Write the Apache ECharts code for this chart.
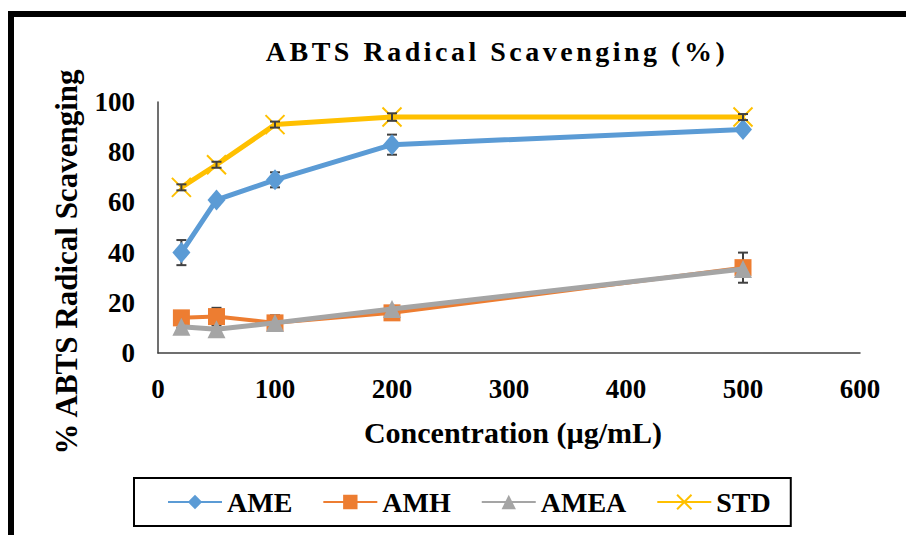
<!DOCTYPE html>
<html>
<head>
<meta charset="utf-8">
<script src="https://cdn.jsdelivr.net/npm/echarts@6/dist/echarts.min.js"></script>
<style>
html,body{margin:0;padding:0;background:#fff;}
#chart{width:906px;height:535px;}
</style>
</head>
<body>
<div id="chart"></div>
<script>
// ---- data ----
const concentrations = [20, 50, 100, 200, 500];
const ame  = [40, 61, 69, 83, 89];
const amh  = [14, 14.5, 12, 16, 34];
const amea = [10.5, 9.5, 12, 17.5, 33.5];
const std  = [66, 75, 91, 94, 94];
const ameErr  = [5, 0.5, 3, 4, 0.5];
const amhErr  = [0.5, 3.5, 3, 1.5, 6];
const ameaErr = [0.5, 0.5, 0.5, 1, 0.5];
const stdErr  = [1.2, 1.2, 1.2, 1.5, 1.2];
const xTicks = [0, 100, 200, 300, 400, 500, 600];
const yTicks = [0, 20, 40, 60, 80, 100];
const seriesNames = ['AME', 'AMH', 'AMEA', 'STD'];
const titleText = 'ABTS Radical Scavenging (%)';
const xTitle = 'Concentration (µg/mL)';
const yTitle = '% ABTS Radical Scavenging';

const FONT = "'Liberation Serif','Times New Roman',serif";
const colors = ['#5B9BD5', '#ED7D31', '#A5A5A5', '#FFC000'];

const pair = (ys) => concentrations.map((x, i) => [x, ys[i]]);
const errPair = (ys, es) => concentrations.map((x, i) => [x, ys[i], es[i]]);

function renderErr(params, api) {
  const x = api.value(0), y = api.value(1), e = api.value(2);
  const t = api.coord([x, y + e]);
  const b = api.coord([x, y - e]);
  const hw = 5;
  const st = { stroke: '#404040', lineWidth: 2 };
  return {
    type: 'group',
    children: [
      { type: 'line', shape: { x1: t[0], y1: t[1], x2: b[0], y2: b[1] }, style: st },
      { type: 'line', shape: { x1: t[0] - hw, y1: t[1], x2: t[0] + hw, y2: t[1] }, style: st },
      { type: 'line', shape: { x1: b[0] - hw, y1: b[1], x2: b[0] + hw, y2: b[1] }, style: st }
    ]
  };
}

const lineDefs = [
  { name: 'AME', data: ame, symbol: 'diamond', size: [18, 21], width: 5 },
  { name: 'AMH', data: amh, symbol: 'rect', size: 17, width: 4 },
  { name: 'AMEA', data: amea, symbol: 'triangle', size: 18, width: 5 },
  { name: 'STD', data: std, symbol: 'path://M0,0L10,10M10,0L0,10', size: 19, width: 5 }
];
const errs = [ameErr, amhErr, ameaErr, stdErr];

const series = [];
lineDefs.forEach((d, i) => {
  series.push({
    name: d.name,
    type: 'line',
    data: pair(d.data),
    symbol: d.symbol,
    symbolSize: d.size,
    showAllSymbol: true,
    lineStyle: { color: colors[i], width: d.width },
    itemStyle: { color: d.name === 'STD' ? 'none' : colors[i], borderColor: colors[i], borderWidth: d.name === 'STD' ? 2 : 0 },
    z: 2 + i,
    animation: false
  });
});
lineDefs.forEach((d, i) => {
  series.push({
    name: d.name + ' error',
    type: 'custom',
    renderItem: renderErr,
    data: errPair(d.data, errs[i]),
    encode: { x: 0, y: 1 },
    z: d.name === 'STD' ? 10 : 1,
    silent: true,
    animation: false
  });
});

const chart = echarts.init(document.getElementById('chart'), null, { renderer: 'svg' });
chart.setOption({
  animation: false,
  backgroundColor: '#fff',
  title: {
    text: titleText,
    left: 492, top: 32, textAlign: 'center',
    textStyle: { fontFamily: FONT, fontWeight: 'bold', fontSize: 28, color: '#000' }
  },
  legend: {
    data: seriesNames,
    left: 134, top: 478,
    padding: [10, 20, 10, 33],
    itemGap: 30,
    itemWidth: 54, itemHeight: 18,
    borderColor: '#000', borderWidth: 2,
    textStyle: { fontFamily: FONT, fontWeight: 'bold', fontSize: 28, color: '#000' }
  },
  grid: { left: 158, right: 46, top: 102, bottom: 182, containLabel: false },
  xAxis: {
    type: 'value', min: xTicks[0], max: xTicks[xTicks.length - 1], interval: 100,
    axisLine: { show: true, lineStyle: { color: '#404040', width: 1.5 } },
    axisTick: { show: false },
    splitLine: { show: false },
    axisLabel: { margin: 22, fontFamily: FONT, fontWeight: 'bold', fontSize: 27, color: '#000' }
  },
  yAxis: {
    type: 'value', min: yTicks[0], max: yTicks[yTicks.length - 1], interval: 20,
    axisLine: { show: true, lineStyle: { color: '#404040', width: 1.5 } },
    axisTick: { show: false },
    splitLine: { show: false },
    axisLabel: { margin: 23, fontFamily: FONT, fontWeight: 'bold', fontSize: 27, color: '#000' }
  },
  graphic: [
    { type: 'rect', silent: true, z: 100, shape: { x: 11, y: 14, width: 1000, height: 700 },
      style: { fill: 'none', stroke: '#000', lineWidth: 6 } },
    { type: 'text', x: 513, y: 432, silent: true,
      style: { text: xTitle, fill: '#000', font: "bold 30px " + FONT, textAlign: 'center', textVerticalAlign: 'middle' } },
    { type: 'text', x: 66, y: 262, rotation: Math.PI / 2, silent: true,
      style: { text: yTitle, fill: '#000', font: "bold 31px " + FONT, textAlign: 'center', textVerticalAlign: 'middle' } }
  ],
  series: series
});

function spaceTitle() {
  document.querySelectorAll('#chart text').forEach(t => {
    if (t.textContent === titleText) {
      t.setAttribute('letter-spacing', '3.5px');
    }
  });
}
spaceTitle();
chart.on('finished', spaceTitle);
setTimeout(spaceTitle, 50);
setTimeout(spaceTitle, 300);
</script>
</body>
</html>
